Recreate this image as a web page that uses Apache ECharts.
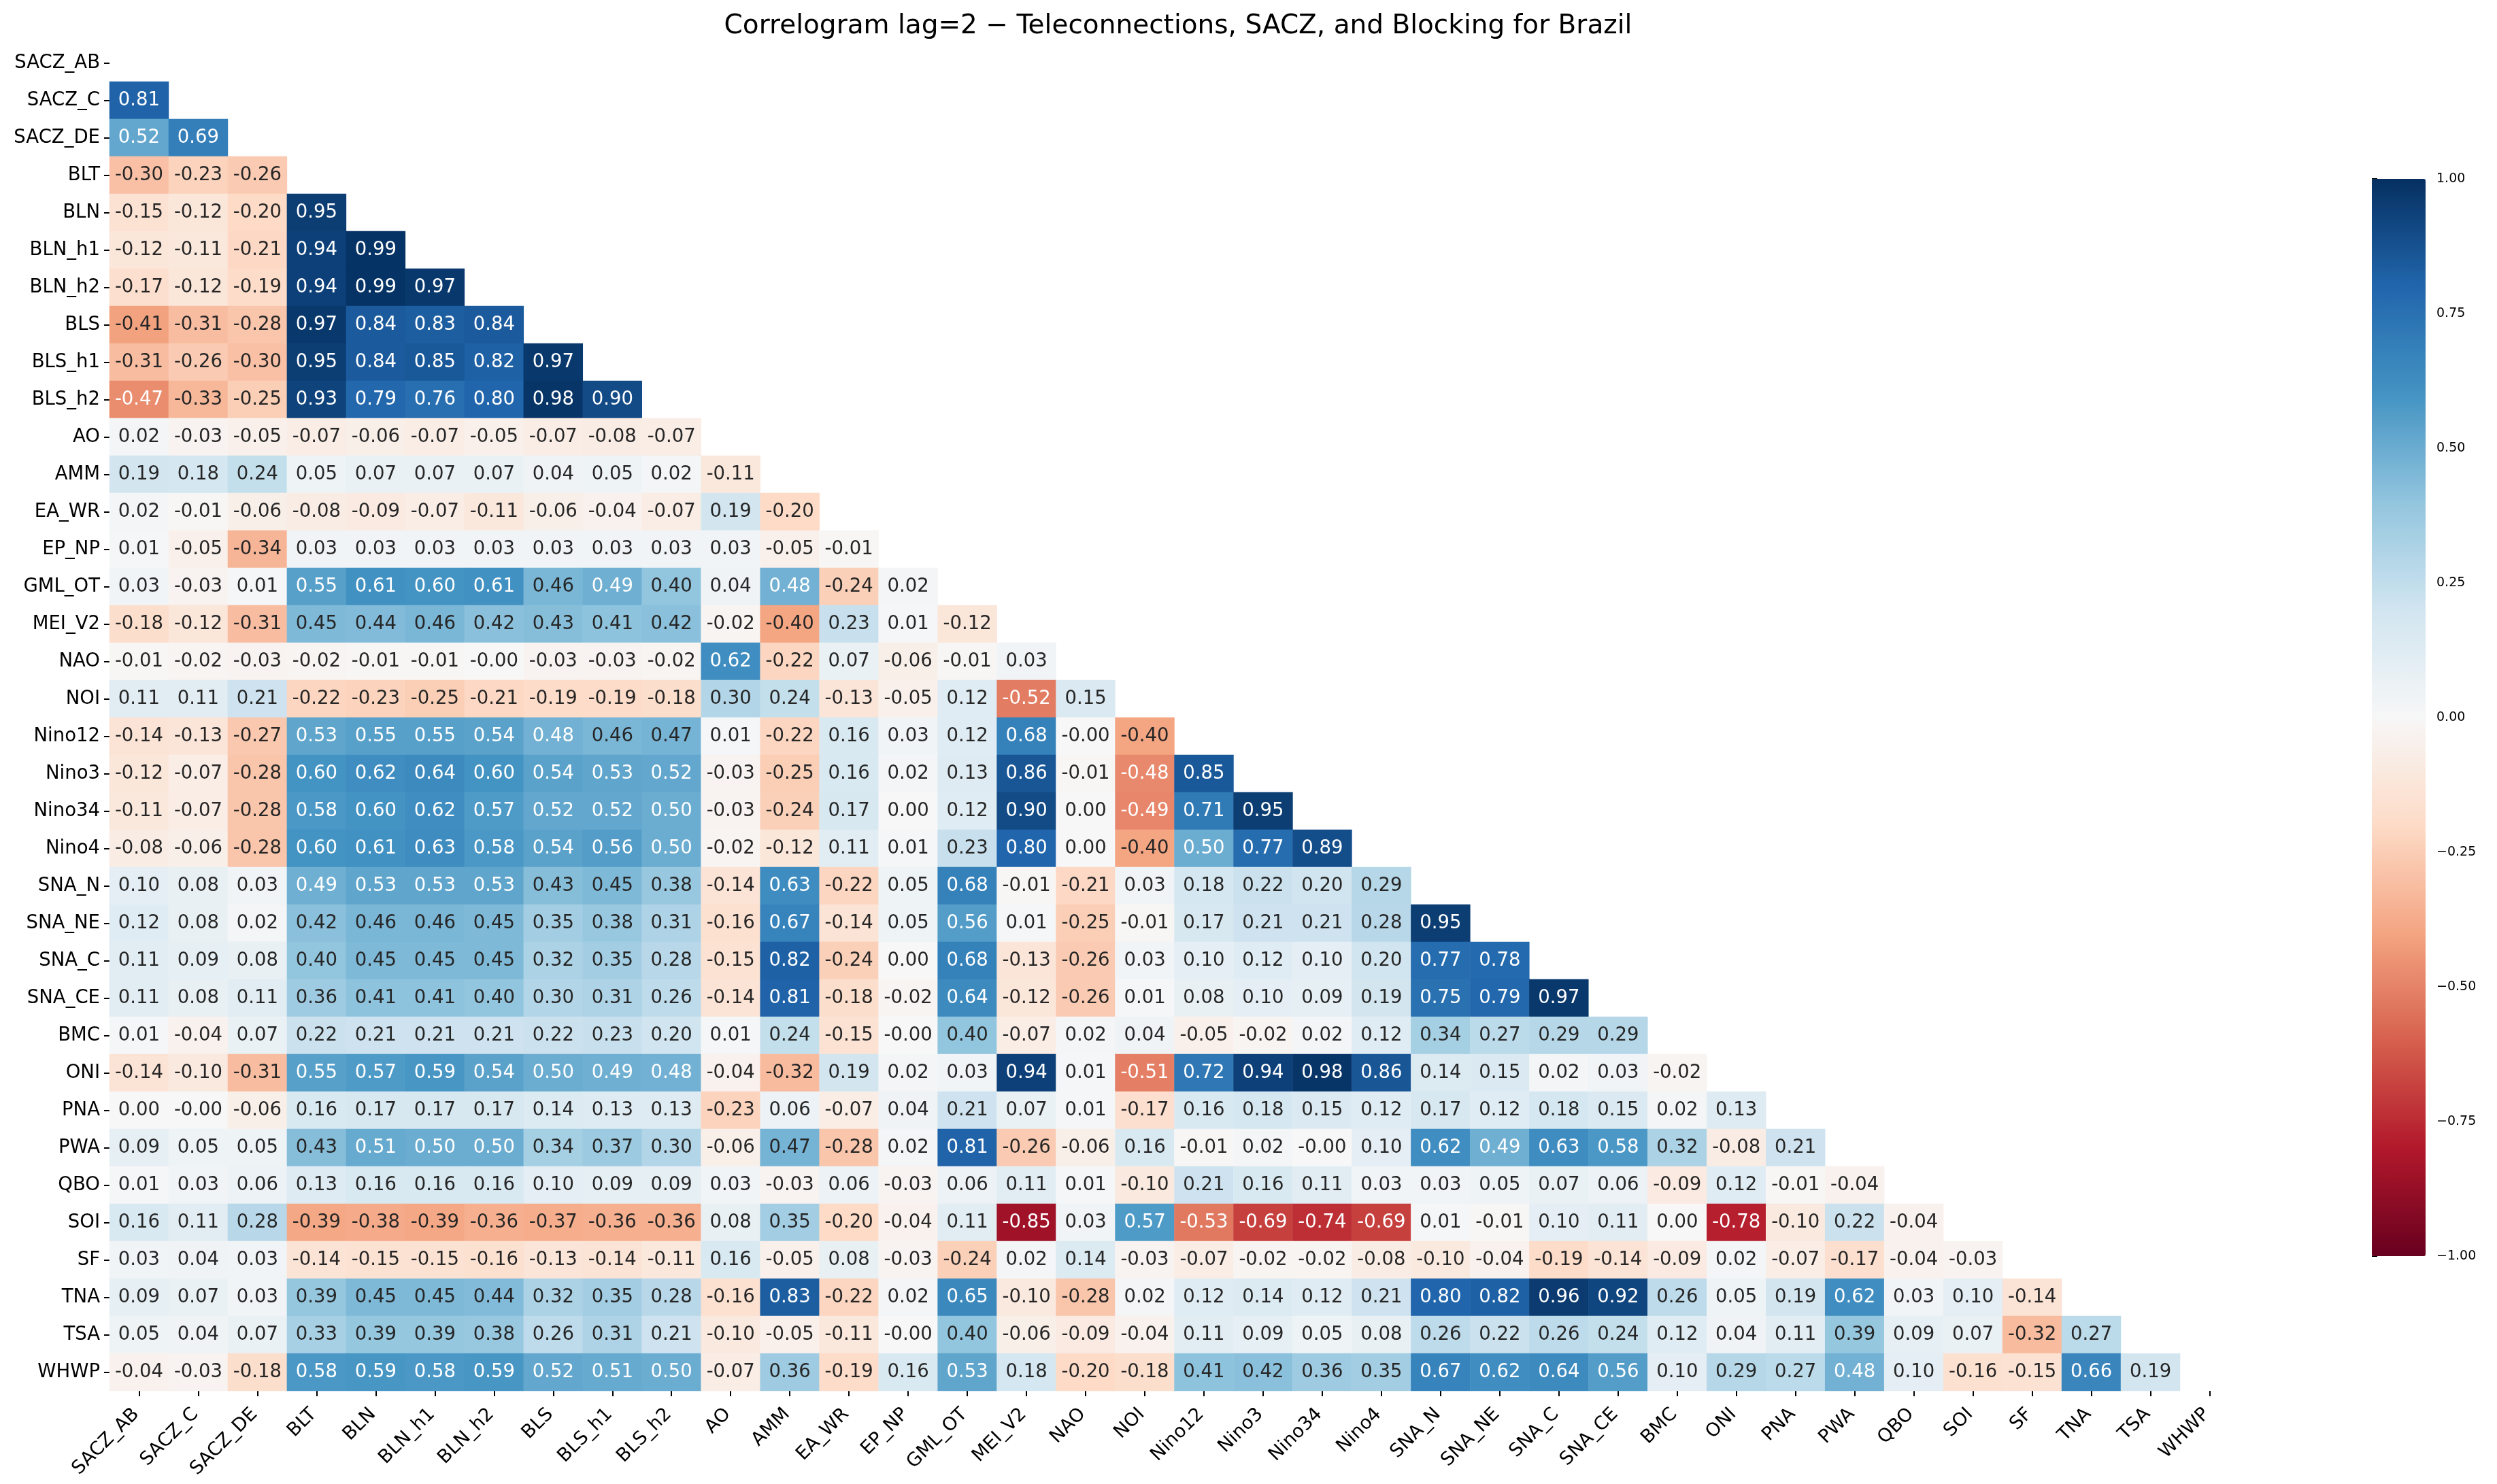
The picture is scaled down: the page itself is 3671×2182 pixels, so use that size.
<!DOCTYPE html>
<html>
<head>
<meta charset="utf-8">
<title>Correlogram lag=2</title>
<script src="https://cdn.jsdelivr.net/npm/echarts@6/dist/echarts.min.js"></script>
<style>
  html, body { margin: 0; padding: 0; background: #fff; }
  #chart { width: 3671px; height: 2182px; }
</style>
</head>
<body>
<div id="chart"></div>
<script>
// variable names (rows top->bottom, columns left->right)
const names = ['SACZ_AB', 'SACZ_C', 'SACZ_DE', 'BLT', 'BLN', 'BLN_h1', 'BLN_h2', 'BLS', 'BLS_h1', 'BLS_h2',
    'AO', 'AMM', 'EA_WR', 'EP_NP', 'GML_OT', 'MEI_V2', 'NAO', 'NOI', 'Nino12', 'Nino3', 'Nino34', 'Nino4',
    'SNA_N', 'SNA_NE', 'SNA_C', 'SNA_CE', 'BMC', 'ONI', 'PNA', 'PWA', 'QBO', 'SOI', 'SF', 'TNA', 'TSA', 'WHWP'];

// lower triangle, one array per row (-0.001 = printed "-0.00")
const rowSACZ_AB = [];
const rowSACZ_C = [0.81];
const rowSACZ_DE = [0.52, 0.69];
const rowBLT = [-0.30, -0.23, -0.26];
const rowBLN = [-0.15, -0.12, -0.20, 0.95];
const rowBLN_h1 = [-0.12, -0.11, -0.21, 0.94, 0.99];
const rowBLN_h2 = [-0.17, -0.12, -0.19, 0.94, 0.99, 0.97];
const rowBLS = [-0.41, -0.31, -0.28, 0.97, 0.84, 0.83, 0.84];
const rowBLS_h1 = [-0.31, -0.26, -0.30, 0.95, 0.84, 0.85, 0.82, 0.97];
const rowBLS_h2 = [-0.47, -0.33, -0.25, 0.93, 0.79, 0.76, 0.80, 0.98, 0.90];
const rowAO = [0.02, -0.03, -0.05, -0.07, -0.06, -0.07, -0.05, -0.07, -0.08, -0.07];
const rowAMM = [0.19, 0.18, 0.24, 0.05, 0.07, 0.07, 0.07, 0.04, 0.05, 0.02, -0.11];
const rowEA_WR = [0.02, -0.01, -0.06, -0.08, -0.09, -0.07, -0.11, -0.06, -0.04, -0.07, 0.19, -0.20];
const rowEP_NP = [0.01, -0.05, -0.34, 0.03, 0.03, 0.03, 0.03, 0.03, 0.03, 0.03, 0.03, -0.05, -0.01];
const rowGML_OT = [0.03, -0.03, 0.01, 0.55, 0.61, 0.60, 0.61, 0.46, 0.49, 0.40, 0.04, 0.48, -0.24, 0.02];
const rowMEI_V2 = [-0.18, -0.12, -0.31, 0.45, 0.44, 0.46, 0.42, 0.43, 0.41, 0.42, -0.02, -0.40, 0.23, 0.01, -0.12];
const rowNAO = [-0.01, -0.02, -0.03, -0.02, -0.01, -0.01, -0.001, -0.03, -0.03, -0.02, 0.62, -0.22, 0.07, -0.06, -0.01, 0.03];
const rowNOI = [0.11, 0.11, 0.21, -0.22, -0.23, -0.25, -0.21, -0.19, -0.19, -0.18, 0.30, 0.24, -0.13, -0.05, 0.12, -0.52, 0.15];
const rowNino12 = [-0.14, -0.13, -0.27, 0.53, 0.55, 0.55, 0.54, 0.48, 0.46, 0.47, 0.01, -0.22, 0.16, 0.03, 0.12, 0.68, -0.001, -0.40];
const rowNino3 = [-0.12, -0.07, -0.28, 0.60, 0.62, 0.64, 0.60, 0.54, 0.53, 0.52, -0.03, -0.25, 0.16, 0.02, 0.13, 0.86, -0.01, -0.48, 0.85];
const rowNino34 = [-0.11, -0.07, -0.28, 0.58, 0.60, 0.62, 0.57, 0.52, 0.52, 0.50, -0.03, -0.24, 0.17, 0.00, 0.12, 0.90, 0.00, -0.49, 0.71, 0.95];
const rowNino4 = [-0.08, -0.06, -0.28, 0.60, 0.61, 0.63, 0.58, 0.54, 0.56, 0.50, -0.02, -0.12, 0.11, 0.01, 0.23, 0.80, 0.00, -0.40, 0.50, 0.77, 0.89];
const rowSNA_N = [0.10, 0.08, 0.03, 0.49, 0.53, 0.53, 0.53, 0.43, 0.45, 0.38, -0.14, 0.63, -0.22, 0.05, 0.68, -0.01, -0.21, 0.03, 0.18, 0.22, 0.20, 0.29];
const rowSNA_NE = [0.12, 0.08, 0.02, 0.42, 0.46, 0.46, 0.45, 0.35, 0.38, 0.31, -0.16, 0.67, -0.14, 0.05, 0.56, 0.01, -0.25, -0.01, 0.17, 0.21, 0.21, 0.28, 0.95];
const rowSNA_C = [0.11, 0.09, 0.08, 0.40, 0.45, 0.45, 0.45, 0.32, 0.35, 0.28, -0.15, 0.82, -0.24, 0.00, 0.68, -0.13, -0.26, 0.03, 0.10, 0.12, 0.10, 0.20, 0.77, 0.78];
const rowSNA_CE = [0.11, 0.08, 0.11, 0.36, 0.41, 0.41, 0.40, 0.30, 0.31, 0.26, -0.14, 0.81, -0.18, -0.02, 0.64, -0.12, -0.26, 0.01, 0.08, 0.10, 0.09, 0.19, 0.75, 0.79, 0.97];
const rowBMC = [0.01, -0.04, 0.07, 0.22, 0.21, 0.21, 0.21, 0.22, 0.23, 0.20, 0.01, 0.24, -0.15, -0.001, 0.40, -0.07, 0.02, 0.04, -0.05, -0.02, 0.02, 0.12, 0.34, 0.27, 0.29, 0.29];
const rowONI = [-0.14, -0.10, -0.31, 0.55, 0.57, 0.59, 0.54, 0.50, 0.49, 0.48, -0.04, -0.32, 0.19, 0.02, 0.03, 0.94, 0.01, -0.51, 0.72, 0.94, 0.98, 0.86, 0.14, 0.15, 0.02, 0.03, -0.02];
const rowPNA = [0.00, -0.001, -0.06, 0.16, 0.17, 0.17, 0.17, 0.14, 0.13, 0.13, -0.23, 0.06, -0.07, 0.04, 0.21, 0.07, 0.01, -0.17, 0.16, 0.18, 0.15, 0.12, 0.17, 0.12, 0.18, 0.15, 0.02, 0.13];
const rowPWA = [0.09, 0.05, 0.05, 0.43, 0.51, 0.50, 0.50, 0.34, 0.37, 0.30, -0.06, 0.47, -0.28, 0.02, 0.81, -0.26, -0.06, 0.16, -0.01, 0.02, -0.001, 0.10, 0.62, 0.49, 0.63, 0.58, 0.32, -0.08, 0.21];
const rowQBO = [0.01, 0.03, 0.06, 0.13, 0.16, 0.16, 0.16, 0.10, 0.09, 0.09, 0.03, -0.03, 0.06, -0.03, 0.06, 0.11, 0.01, -0.10, 0.21, 0.16, 0.11, 0.03, 0.03, 0.05, 0.07, 0.06, -0.09, 0.12, -0.01, -0.04];
const rowSOI = [0.16, 0.11, 0.28, -0.39, -0.38, -0.39, -0.36, -0.37, -0.36, -0.36, 0.08, 0.35, -0.20, -0.04, 0.11, -0.85, 0.03, 0.57, -0.53, -0.69, -0.74, -0.69, 0.01, -0.01, 0.10, 0.11, 0.00, -0.78, -0.10, 0.22, -0.04];
const rowSF = [0.03, 0.04, 0.03, -0.14, -0.15, -0.15, -0.16, -0.13, -0.14, -0.11, 0.16, -0.05, 0.08, -0.03, -0.24, 0.02, 0.14, -0.03, -0.07, -0.02, -0.02, -0.08, -0.10, -0.04, -0.19, -0.14, -0.09, 0.02, -0.07, -0.17, -0.04, -0.03];
const rowTNA = [0.09, 0.07, 0.03, 0.39, 0.45, 0.45, 0.44, 0.32, 0.35, 0.28, -0.16, 0.83, -0.22, 0.02, 0.65, -0.10, -0.28, 0.02, 0.12, 0.14, 0.12, 0.21, 0.80, 0.82, 0.96, 0.92, 0.26, 0.05, 0.19, 0.62, 0.03, 0.10, -0.14];
const rowTSA = [0.05, 0.04, 0.07, 0.33, 0.39, 0.39, 0.38, 0.26, 0.31, 0.21, -0.10, -0.05, -0.11, -0.001, 0.40, -0.06, -0.09, -0.04, 0.11, 0.09, 0.05, 0.08, 0.26, 0.22, 0.26, 0.24, 0.12, 0.04, 0.11, 0.39, 0.09, 0.07, -0.32, 0.27];
const rowWHWP = [-0.04, -0.03, -0.18, 0.58, 0.59, 0.58, 0.59, 0.52, 0.51, 0.50, -0.07, 0.36, -0.19, 0.16, 0.53, 0.18, -0.20, -0.18, 0.41, 0.42, 0.36, 0.35, 0.67, 0.62, 0.64, 0.56, 0.10, 0.29, 0.27, 0.48, 0.10, -0.16, -0.15, 0.66, 0.19];

// colorbar ticks
const cbarTicks = [-1.00, -0.75, -0.50, -0.25, 0.00, 0.25, 0.50, 0.75, 1.00];

// RdBu (red -> blue)
const rdbu = ['#67001f', '#b2182b', '#d6604d', '#f4a582', '#fddbc7', '#f7f7f7',
    '#d1e5f0', '#92c5de', '#4393c3', '#2166ac', '#053061'];

const rows = [rowSACZ_AB, rowSACZ_C, rowSACZ_DE, rowBLT, rowBLN, rowBLN_h1, rowBLN_h2, rowBLS, rowBLS_h1, rowBLS_h2,
    rowAO, rowAMM, rowEA_WR, rowEP_NP, rowGML_OT, rowMEI_V2, rowNAO, rowNOI, rowNino12, rowNino3, rowNino34, rowNino4,
    rowSNA_N, rowSNA_NE, rowSNA_C, rowSNA_CE, rowBMC, rowONI, rowPNA, rowPWA, rowQBO, rowSOI, rowSF, rowTNA, rowTSA, rowWHWP];

// colour of a value on the RdBu scale, then seaborn-like text colour choice
function hexToRgb(h) {
    return [parseInt(h.substr(1, 2), 16), parseInt(h.substr(3, 2), 16), parseInt(h.substr(5, 2), 16)];
}
function valueColor(v) {
    let t = (v + 1) / 2 * (rdbu.length - 1);
    let i = Math.min(Math.floor(t), rdbu.length - 2);
    let f = t - i;
    let a = hexToRgb(rdbu[i]), b = hexToRgb(rdbu[i + 1]);
    return a.map((c, k) => c + (b[k] - c) * f);
}
function textColor(v) {
    let lin = valueColor(v).map(c => {
        c = c / 255;
        return c <= 0.03928 ? c / 12.92 : Math.pow((c + 0.055) / 1.055, 2.4);
    });
    let lum = 0.2126 * lin[0] + 0.7152 * lin[1] + 0.0722 * lin[2];
    return lum > 0.408 ? '#262626' : '#ffffff';
}

let cells = [];
rows.forEach((row, i) => {
    row.forEach((v, j) => {
        cells.push({ value: [j, i, v], label: { color: textColor(v) } });
    });
});

const FONT = 'DejaVu Sans';

let chart = echarts.init(document.getElementById('chart'));
let option = {
    backgroundColor: '#ffffff',
    animation: false,
    title: {
        text: 'Correlogram lag=2 \u2212 Teleconnections, SACZ, and Blocking for Brazil',
        left: 1727,
        top: 14,
        textAlign: 'center',
        textStyle: { fontFamily: FONT, fontSize: 39, fontWeight: 'normal', color: '#000' }
    },
    grid: [
        { left: 161, top: 65, width: 3131, height: 1980 },
        { left: 3487, top: 263, width: 79, height: 1584 }
    ],
    xAxis: [
        {
            type: 'category',
            data: names,
            gridIndex: 0,
            axisLine: { show: false },
            axisTick: { show: true, alignWithLabel: true, length: 8, lineStyle: { color: '#000', width: 2 } },
            axisLabel: {
                interval: 0, rotate: 45, margin: 26, padding: [0, 6, 0, 0],
                fontFamily: FONT, fontSize: 27.5, color: '#000'
            },
            splitLine: { show: false }
        },
        { type: 'value', gridIndex: 1, min: 0, max: 1, show: false }
    ],
    yAxis: [
        {
            type: 'category',
            data: names,
            inverse: true,
            gridIndex: 0,
            axisLine: { show: false },
            axisTick: { show: true, alignWithLabel: true, length: 8, lineStyle: { color: '#000', width: 2 } },
            axisLabel: { interval: 0, margin: 14, fontFamily: FONT, fontSize: 27.5, color: '#000' },
            splitLine: { show: false }
        },
        {
            type: 'value',
            gridIndex: 1,
            position: 'right',
            min: cbarTicks[0],
            max: cbarTicks[cbarTicks.length - 1],
            interval: 0.25,
            axisLine: { show: false },
            axisTick: { show: true, length: 8, lineStyle: { color: '#000', width: 2 } },
            axisLabel: {
                margin: 16, fontFamily: FONT, fontSize: 19, color: '#000',
                formatter: v => v.toFixed(2).replace('-', '\u2212')
            },
            splitLine: { show: false }
        }
    ],
    visualMap: {
        type: 'continuous',
        min: -1,
        max: 1,
        seriesIndex: 0,
        calculable: false,
        hoverLink: false,
        left: 3487,
        top: 263,
        padding: 0,
        itemWidth: 79,
        itemHeight: 1584,
        text: null,
        inRange: { color: rdbu }
    },
    series: [
        {
            type: 'heatmap',
            xAxisIndex: 0,
            yAxisIndex: 0,
            data: cells,
            label: {
                show: true,
                fontFamily: FONT,
                fontSize: 27.5,
                formatter: p => p.value[2].toFixed(2)
            },
            emphasis: { disabled: true }
        }
    ]
};
chart.setOption(option);
</script>
</body>
</html>
